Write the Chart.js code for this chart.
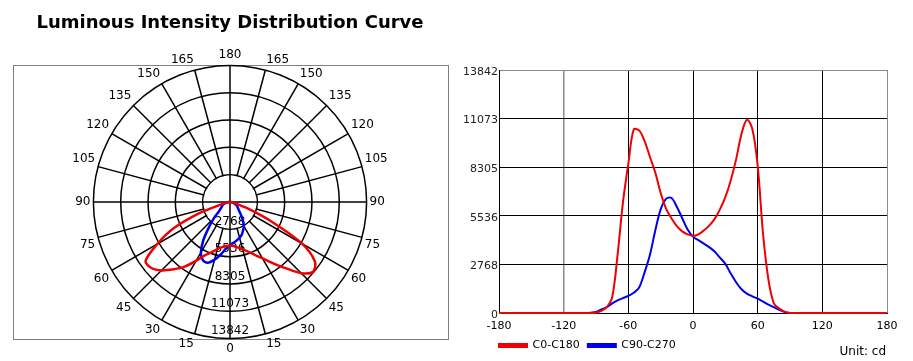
<!DOCTYPE html>
<html>
<head>
<meta charset="utf-8">
<script src="https://cdn.jsdelivr.net/npm/chart.js@4.4.1/dist/chart.umd.min.js"></script>
<style>
  html, body { margin: 0; padding: 0; background: #fff; overflow: hidden; }
  #page { position: relative; width: 913px; height: 361px; }
  #polarBox { position: absolute; left: 13px; top: 65px; width: 436px; height: 275px; box-sizing: border-box; border: 1px solid #808080; }
  #polarChart { position: absolute; left: 0; top: 0; }
  #lineChart { position: absolute; left: 455px; top: 0; }
  #unit { position: absolute; right: 27px; top: 344px; font: 12px "DejaVu Sans", Verdana, sans-serif; line-height: 14px; color: #000; }
</style>
</head>
<body>
<div id="page">
  <div id="polarBox"></div>
  <canvas id="polarChart" width="460" height="361"></canvas>
  <canvas id="lineChart" width="458" height="361"></canvas>
  <div id="unit">Unit: cd</div>
</div>
<script>
const chartTitle = "Luminous Intensity Distribution Curve";
const seriesNames = ["C0-C180", "C90-C270"];

// gamma angles, every 5 degrees
const angles = [
  -180, -175, -170, -165, -160, -155, -150, -145, -140, -135, -130, -125, -120, -115, -110, -105, -100, -95,
  -90, -85, -80, -75, -70, -65, -60, -55, -50, -45, -40, -35, -30, -25, -20, -15, -10, -5,
  0, 5, 10, 15, 20, 25, 30, 35, 40, 45, 50, 55, 60, 65, 70, 75, 80, 85, 90,
  95, 100, 105, 110, 115, 120, 125, 130, 135, 140, 145, 150, 155, 160, 165, 170, 175, 180
];

// intensity in cd
const c0c180 = [
  0, 0, 0, 0, 0, 0, 0, 0, 0, 0, 0, 0, 0, 0, 0, 0, 0, 0,
  20, 120, 330, 900, 3300, 6300, 8500, 10450, 10400, 9800, 8900, 8000, 6850, 5950, 5400, 4950, 4650, 4480,
  4400, 4480, 4700, 4980, 5350, 5900, 6600, 7550, 8750, 10200, 11000, 10500, 8400, 4500, 1900, 550, 250, 80, 0,
  0, 0, 0, 0, 0, 0, 0, 0, 0, 0, 0, 0, 0, 0, 0, 0, 0, 0
];

const c90c270 = [
  0, 0, 0, 0, 0, 0, 0, 0, 0, 0, 0, 0, 0, 0, 0, 0, 0, 20,
  60, 200, 330, 550, 720, 850, 970, 1150, 1450, 2300, 3300, 4700, 5900, 6500, 6550, 6050, 5400, 4750,
  4350, 4150, 3950, 3750, 3500, 3150, 2800, 2250, 1750, 1350, 1100, 950, 820, 650, 480, 330, 180, 50, 0,
  0, 0, 0, 0, 0, 0, 0, 0, 0, 0, 0, 0, 0, 0, 0, 0, 0, 0
];

const maxCd = 13842;
const cdStep = 2768.4;
const cdTickLabels = ["0", "2768", "5536", "8305", "11073", "13842"];
const xTickLabels = ["-180", "-120", "-60", "0", "60", "120", "180"];

const red = "#f00000";
const blue = "#0000f0";
const legendPad = 8;

Chart.defaults.font.family = "'DejaVu Sans', Verdana, sans-serif";
Chart.defaults.color = "#000";

// radar starts at the top (180) and runs clockwise: right side positive, left side negative
const radarIdx = [];
for (let g = 180; g > -180; g -= 5) radarIdx.push(angles.indexOf(g));

// clean inner circle and ring values along the 0 direction
const polarCenter = {
  id: "polarCenter",
  beforeDatasetsDraw(chart) {
    const s = chart.scales.r;
    const ctx = chart.ctx;
    const r1 = s.getDistanceFromCenterForValue(cdStep);
    ctx.save();
    ctx.fillStyle = "#fff";
    ctx.beginPath();
    ctx.arc(s.xCenter, s.yCenter, r1 - 0.8, 0, Math.PI * 2);
    ctx.fill();
    ctx.strokeStyle = "#000";
    ctx.lineWidth = 1.5;
    ctx.beginPath();
    ctx.moveTo(s.xCenter, s.yCenter - r1);
    ctx.lineTo(s.xCenter, s.yCenter + r1);
    ctx.moveTo(s.xCenter - r1, s.yCenter);
    ctx.lineTo(s.xCenter + r1, s.yCenter);
    ctx.stroke();

    ctx.fillStyle = "#000";
    ctx.font = "12px 'DejaVu Sans', Verdana, sans-serif";
    ctx.textAlign = "center";
    ctx.textBaseline = "middle";
    s.ticks.forEach((t, i) => {
      if (i === 0) return;
      const d = s.getDistanceFromCenterForValue(t.value);
      ctx.fillText(cdTickLabels[i], s.xCenter, s.yCenter + d - 7.5);
    });
    ctx.restore();
  }
};

// line the legend up with the left edge of the plot
const legendToPlot = {
  id: "legendToPlot",
  afterLayout(chart) {
    const lg = chart.legend;
    const dx = chart.chartArea.left - legendPad - lg.left;
    lg.left += dx;
    lg.right += dx;
  }
};

new Chart(document.getElementById("polarChart"), {
  type: "radar",
  data: {
    labels: radarIdx.map(k => angles[k]),
    datasets: [
      {
        label: seriesNames[0],
        data: radarIdx.map(k => c0c180[k]),
        borderColor: red,
        borderWidth: 2.5,
        pointRadius: 0,
        fill: false,
        tension: 0.3,
      },
      {
        label: seriesNames[1],
        data: radarIdx.map(k => c90c270[k]),
        borderColor: blue,
        borderWidth: 2.5,
        pointRadius: 0,
        fill: false,
        tension: 0.3,
      },
    ],
  },
  options: {
    responsive: false,
    animation: false,
    layout: { padding: { bottom: 5 } },
    plugins: {
      legend: { display: false },
      tooltip: { enabled: false },
      title: {
        display: true,
        text: chartTitle,
        color: "#000",
        font: { size: 18, weight: "bold" },
        padding: { top: 13, bottom: 13.4 },
      },
    },
    scales: {
      r: {
        min: 0,
        max: maxCd,
        ticks: { display: false, stepSize: cdStep },
        grid: { circular: true, color: "#000", lineWidth: 1.5 },
        angleLines: {
          color: "#000",
          lineWidth: c => (c.label !== "" ? 1.5 : 0),
        },
        pointLabels: {
          padding: 3,
          color: "#000",
          font: { size: 12 },
          callback: v => (v % 15 === 0 ? String(Math.abs(v)) : ""),
        },
      },
    },
  },
  plugins: [polarCenter],
});

new Chart(document.getElementById("lineChart"), {
  type: "line",
  data: {
    datasets: [
      {
        label: seriesNames[0],
        data: angles.map((a, i) => ({ x: a, y: c0c180[i] })),
        borderColor: red,
        backgroundColor: red,
        borderWidth: 2,
        pointRadius: 0,
        tension: 0.35,
        clip: false,
      },
      {
        label: seriesNames[1],
        data: angles.map((a, i) => ({ x: a, y: c90c270[i] })),
        borderColor: blue,
        backgroundColor: blue,
        borderWidth: 2,
        pointRadius: 0,
        tension: 0.35,
        clip: false,
      },
    ],
  },
  options: {
    responsive: false,
    animation: false,
    layout: { padding: { left: 0, right: 26, top: 70, bottom: 0 } },
    plugins: {
      tooltip: { enabled: false },
      legend: {
        position: "bottom",
        align: "start",
        labels: {
          boxWidth: 28,
          boxHeight: 3,
          padding: legendPad,
          color: "#000",
          font: { size: 11 },
        },
      },
    },
    scales: {
      x: {
        type: "linear",
        min: -180,
        max: 180,
        afterFit: s => { s.height = 19; },
        ticks: {
          stepSize: 60,
          padding: 7,
          maxRotation: 0,
          color: "#000",
          font: { size: 11 },
          callback: (v, i) => xTickLabels[i],
        },
        grid: {
          drawTicks: false,
          color: c => (c.tick && (c.tick.value === -120 || c.tick.value === 180) ? "#8a8a8a" : "#000"),
          lineWidth: c => (c.tick && c.tick.value === -120 ? 1.5 : 1),
        },
        border: { color: "#000" },
      },
      y: {
        min: 0,
        max: maxCd,
        afterFit: s => { s.width = 44; },
        ticks: {
          stepSize: cdStep,
          padding: 1,
          labelOffset: 2,
          color: "#222",
          font: { size: 11 },
          callback: (v, i) => cdTickLabels[i],
        },
        grid: {
          drawTicks: false,
          color: c => (c.tick && c.tick.value === maxCd ? "#8a8a8a" : "#000"),
        },
        border: { color: "#000" },
      },
    },
  },
  plugins: [legendToPlot],
});
</script>
</body>
</html>
